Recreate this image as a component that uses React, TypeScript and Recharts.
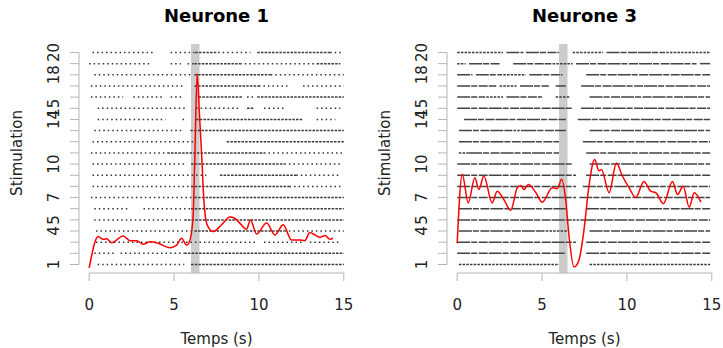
import React from "react";
import {
  ComposedChart,
  Line,
  XAxis,
  YAxis,
  ReferenceArea,
  ReferenceLine,
  Label,
} from "recharts";

const xTicks = [0, 5, 10, 15];
const trials = [1, 2, 3, 4, 5, 6, 7, 8, 9, 10, 11, 12, 13, 14, 15, 16, 17, 18, 19, 20];
const yLabels = [1, 4, 5, 7, 10, 14, 15, 18, 20];
const stimWindow = [6, 6.5];

// firing rate (in trial units), neurone 1
const n1RateT = [0, 0.53, 0.83, 1.03, 1.32, 2.0, 2.4, 2.8, 3.18, 3.58, 4.07, 4.75, 5.15, 5.44, 5.74, 5.94, 6.12, 6.22, 6.36, 6.5, 6.64, 6.72, 6.87, 7.0, 7.3, 7.8, 8.29, 8.56, 8.87, 9.27, 9.5, 9.86, 10.45, 10.94, 11.43, 11.92, 12.41, 12.7, 13.0, 13.3, 13.6, 13.9, 14.18, 14.37];
const n1Rate = [0.69, 3.5, 3.26, 3.3, 2.95, 3.56, 3.14, 3.14, 2.81, 3.05, 2.9, 2.5, 2.74, 3.35, 2.74, 3.2, 5.3, 10.4, 18.1, 14.3, 10.4, 7.7, 5.0, 4.4, 3.95, 4.56, 5.25, 5.15, 4.71, 4.17, 5.0, 3.74, 4.71, 3.65, 4.56, 3.2, 3.2, 3.14, 3.86, 3.65, 3.44, 3.59, 3.26, 3.35];

// firing rate (in trial units), neurone 3
const n3RateT = [0, 0.3, 0.65, 1.04, 1.28, 1.57, 2.06, 2.36, 2.75, 3.15, 3.54, 3.74, 3.94, 4.19, 4.62, 5.01, 5.6, 5.9, 6.15, 6.39, 6.59, 6.88, 7.17, 7.47, 7.76, 8.1, 8.35, 8.5, 8.95, 9.38, 9.73, 10.13, 10.52, 11.0, 11.4, 11.7, 12.15, 12.68, 12.98, 13.31, 13.67, 13.96, 14.36];
const n3Rate = [2.9, 9.08, 6.52, 8.78, 7.72, 8.93, 6.52, 7.57, 6.82, 5.85, 7.87, 8.08, 7.72, 8.17, 7.48, 6.58, 7.87, 7.8, 8.63, 6.82, 3.5, 0.78, 1.39, 4.1, 8.02, 10.4, 9.4, 9.5, 7.43, 10.1, 8.93, 7.87, 7.0, 8.45, 7.57, 7.43, 6.45, 8.45, 7.27, 8.02, 6.13, 7.42, 6.59];

// spike activity per trial (trial 1 first): [start, end, density 0 sparse / 1 medium / 2 dense]
const n1Spikes = [
  [[0.5, 5.6, 0], [6.0, 15.0, 1]],
  [[0.3, 1.45, 0], [1.85, 5.6, 0], [5.6, 15.0, 1]],
  [[0.4, 9.9, 0], [10.3, 12.6, 0], [13.0, 14.8, 0]],
  [[0.4, 6.2, 0], [6.2, 11.5, 1], [11.5, 15.0, 0]],
  [[0.3, 5.4, 0], [5.6, 15.0, 1]],
  [[0.3, 2.4, 0], [3.2, 6.0, 0], [6.0, 15.0, 1]],
  [[0.1, 6.2, 0], [6.2, 15.0, 1]],
  [[0.2, 6.0, 0], [6.0, 11.8, 1], [11.8, 14.8, 0]],
  [[0.2, 6.9, 0], [7.7, 12.2, 1], [12.2, 14.8, 0]],
  [[0.2, 5.6, 0], [6.0, 11.5, 1], [11.5, 14.8, 0]],
  [[0.1, 4.6, 0], [4.6, 10.3, 1], [10.3, 15.0, 0]],
  [[0.2, 6.2, 0], [8.1, 15.0, 1]],
  [[0.3, 5.6, 0], [5.96, 15.0, 1]],
  [[0.5, 4.5, 0], [5.5, 5.6, 0], [6.3, 12.6, 1], [13.4, 14.5, 0]],
  [[0.5, 5.8, 0], [6.3, 8.9, 0], [9.3, 9.7, 1], [10.3, 11.6, 0], [13.4, 14.8, 0]],
  [[0.1, 2.0, 0], [2.6, 4.4, 0], [4.8, 5.6, 0], [6.45, 9.0, 1], [9.3, 9.7, 0], [9.9, 15.0, 1]],
  [[0.1, 5.6, 0], [6.2, 10.0, 1], [10.0, 11.8, 0], [12.6, 15.0, 0]],
  [[0.3, 6.0, 0], [6.2, 10.7, 1], [10.7, 15.0, 0]],
  [[0.0, 3.6, 0], [4.8, 5.4, 0], [5.8, 6.2, 0], [6.2, 8.9, 1], [8.9, 13.4, 0], [13.4, 14.8, 1]],
  [[0.2, 3.9, 0], [4.8, 6.2, 0], [6.25, 7.5, 1], [7.6, 9.5, 0], [9.9, 14.2, 1], [14.2, 14.9, 0]],
];

const n3Spikes = [
  [[0.1, 6.0, 1], [7.8, 14.9, 1]],
  [[0.0, 6.4, 2], [7.6, 14.9, 2]],
  [[0.0, 7.0, 2], [7.6, 14.9, 2]],
  [[0.1, 5.0, 2], [5.0, 6.6, 1], [7.8, 14.9, 2]],
  [[0.0, 6.6, 2], [6.6, 7.4, 1], [7.4, 14.9, 2]],
  [[0.1, 6.4, 2], [7.6, 14.9, 2]],
  [[0.0, 7.0, 2], [7.2, 14.9, 2]],
  [[0.0, 7.0, 2], [7.4, 14.9, 2]],
  [[0.0, 7.0, 2], [7.6, 14.9, 2]],
  [[0.0, 6.8, 2], [7.8, 14.9, 2]],
  [[0.1, 0.7, 1], [0.7, 6.0, 2], [7.6, 14.9, 2]],
  [[0.1, 6.0, 2], [7.4, 14.9, 2]],
  [[0.1, 3.1, 2], [3.1, 3.9, 1], [3.9, 6.4, 2], [7.8, 14.9, 2]],
  [[0.4, 6.4, 2], [7.1, 14.9, 2]],
  [[0.0, 6.8, 2], [7.3, 14.9, 2]],
  [[0.0, 1.5, 2], [1.5, 2.7, 1], [2.9, 5.0, 2], [5.8, 6.6, 1], [7.8, 14.9, 2]],
  [[0.0, 2.3, 2], [2.5, 3.5, 1], [3.7, 5.4, 2], [5.8, 6.4, 2], [7.3, 14.9, 2]],
  [[0.0, 0.9, 2], [1.1, 2.5, 2], [2.5, 4.05, 1], [4.25, 6.2, 2], [7.6, 14.9, 2]],
  [[0.0, 0.5, 1], [0.7, 2.5, 2], [3.3, 5.4, 2], [5.4, 6.8, 1], [7.0, 14.1, 2], [14.3, 14.9, 2]],
  [[0.0, 2.7, 1], [2.9, 3.9, 2], [4.05, 6.0, 2], [6.8, 8.6, 1], [8.8, 12.1, 2], [12.1, 14.9, 1]],
];

const FONT = "'DejaVu Sans', sans-serif";
const AXIS_GREY = "#b4b4b4";
const dashes = ["1.5 3", "2.5 1.2", "13 1 6 1.5 9 1"];
const inks = ["#333", "#3a3a3a", "#444"];

const XTick = (props: any) => (
  <text x={props.x} y={props.y + 29} textAnchor="middle" fontSize={15} fontFamily={FONT} fill="#222">
    {props.payload.value}
  </text>
);

const YTick = (props: any) => {
  if (!yLabels.includes(props.payload.value)) return <g />;
  return (
    <text
      transform={`translate(${props.x - 11},${props.y}) rotate(-90)`}
      textAnchor="middle"
      fontSize={15}
      fontFamily={FONT}
      fill="#222"
    >
      {props.payload.value}
    </text>
  );
};

const Panel = ({
  title,
  left,
  spikes,
  rateT,
  rate,
}: {
  title: string;
  left: number;
  spikes: number[][][];
  rateT: number[];
  rate: number[];
}) => {
  const data = rateT.map((t, i) => ({ t, r: rate[i] }));
  return (
    <div style={{ position: "absolute", left, top: 0, width: 355, height: 348 }}>
      <div
        style={{
          position: "absolute",
          left: 79,
          width: 275,
          top: 4,
          textAlign: "center",
          fontFamily: FONT,
          fontWeight: "bold",
          fontSize: 18,
          lineHeight: "24px",
          color: "#000",
        }}
      >
        {title}
      </div>
      <ComposedChart width={355} height={348} data={data} margin={{ top: 44, right: 1, bottom: 0, left: 0 }}>
        <XAxis
          dataKey="t"
          type="number"
          domain={[-0.6, 15.6]}
          allowDataOverflow
          ticks={xTicks}
          interval={0}
          axisLine={false}
          tickLine={{ stroke: AXIS_GREY }}
          tickSize={8}
          tickMargin={0}
          height={75}
          tick={<XTick />}
        >
          <Label
            content={() => (
              <text x={79 + 137.5} y={344} textAnchor="middle" fontSize={15} fontFamily={FONT} fill="#222">
                Temps (s)
              </text>
            )}
          />
        </XAxis>
        <YAxis
          type="number"
          domain={[0.24, 20.76]}
          allowDataOverflow
          ticks={trials}
          interval={0}
          axisLine={false}
          tickLine={{ stroke: AXIS_GREY }}
          tickSize={9}
          tickMargin={0}
          width={79}
          tick={<YTick />}
        >
          <Label
            content={() => (
              <text
                transform={`translate(22,153) rotate(-90)`}
                textAnchor="middle"
                fontSize={15}
                fontFamily={FONT}
                fill="#222"
              >
                Stimulation
              </text>
            )}
          />
        </YAxis>
        <ReferenceArea x1={stimWindow[0]} x2={stimWindow[1]} fill="#cccccc" fillOpacity={1} stroke="none" />
        <ReferenceLine
          segment={[{ x: 0, y: 0.24 }, { x: 15, y: 0.24 }]}
          stroke={AXIS_GREY}
          ifOverflow="visible"
        />
        <ReferenceLine
          segment={[{ x: -0.6, y: 1 }, { x: -0.6, y: 20 }]}
          stroke={AXIS_GREY}
          ifOverflow="visible"
        />
        {spikes.map((row, i) =>
          row.map((seg, j) => (
            <ReferenceLine
              key={`s-${i}-${j}`}
              segment={[{ x: seg[0], y: trials[i] }, { x: seg[1], y: trials[i] }]}
              stroke={inks[seg[2]]}
              strokeWidth={1.5}
              strokeDasharray={dashes[seg[2]]}
              ifOverflow="visible"
            />
          ))
        )}
        <Line
          dataKey="r"
          type="monotone"
          stroke="#ff0000"
          strokeWidth={1.5}
          dot={false}
          isAnimationActive={false}
        />
      </ComposedChart>
    </div>
  );
};

export default function App() {
  return (
    <div style={{ position: "absolute", left: 0, top: 0, width: 723, height: 348, background: "#fff", overflow: "hidden" }}>
      <Panel title="Neurone 1" left={0} spikes={n1Spikes} rateT={n1RateT} rate={n1Rate} />
      <Panel title="Neurone 3" left={368} spikes={n3Spikes} rateT={n3RateT} rate={n3Rate} />
    </div>
  );
}
